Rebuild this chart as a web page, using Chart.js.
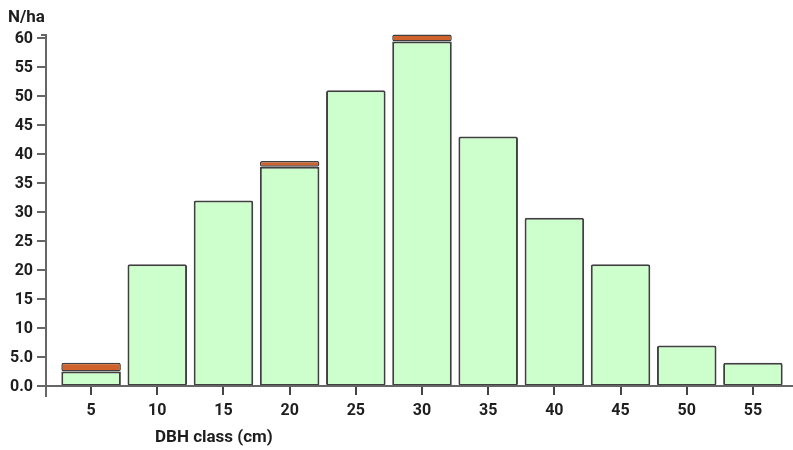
<!DOCTYPE html>
<html>
<head>
<meta charset="utf-8">
<script src="https://cdn.jsdelivr.net/npm/chart.js@4.4.0/dist/chart.umd.min.js"></script>
<style>
  html, body { margin: 0; padding: 0; background: #ffffff; }
  #wrap { width: 793px; height: 450px; position: relative; }
</style>
</head>
<body>
<div id="wrap"><canvas id="c" width="793" height="450"></canvas></div>
<script>
// Data
const categories = ["5", "10", "15", "20", "25", "30", "35", "40", "45", "50", "55"];
const baseValues = [2.5, 21, 32, 37.8, 51, 59.4, 43, 29, 21, 7, 4];
const topValues  = [1.5, null, null, 1.0, null, 1.2, null, null, null, null, null];
const yTickValues = [0, 5, 10, 15, 20, 25, 30, 35, 40, 45, 50, 55, 60];
const yTickLabels = ["0.0", "5.0", "10", "15", "20", "25", "30", "35", "40", "45", "50", "55", "60"];
const yTitle = "N/ha";
const xTitle = "DBH class (cm)";

const FONT = "Roboto, 'Liberation Sans', sans-serif";
const TEXT = "#1e1e1e";
const AXIS = "#666666";

const axesPlugin = {
  id: 'customAxes',
  afterDraw(chart) {
    const ctx = chart.ctx;
    const y = chart.scales.y;
    const axisX = 46;
    const y0 = y.getPixelForValue(0);
    const yTop = y.getPixelForValue(60);
    ctx.save();
    ctx.strokeStyle = AXIS;
    ctx.lineWidth = 2;
    // x axis line
    ctx.beginPath();
    ctx.moveTo(37, y0);
    ctx.lineTo(793, y0);
    ctx.stroke();
    // y axis line
    ctx.beginPath();
    ctx.moveTo(41, yTop - 3);
    ctx.lineTo(axisX, yTop - 3);
    ctx.lineTo(axisX, y0 + 11);
    ctx.stroke();
    // y ticks and labels
    ctx.font = "bold 16px " + FONT;
    ctx.fillStyle = TEXT;
    ctx.textAlign = "right";
    ctx.textBaseline = "middle";
    yTickValues.forEach((v, i) => {
      const py = y.getPixelForValue(v);
      ctx.beginPath();
      ctx.moveTo(37, py);
      ctx.lineTo(axisX, py);
      ctx.stroke();
      ctx.fillText(yTickLabels[i], 33, py + 1);
    });
    // titles
    ctx.font = "bold 17px " + FONT;
    ctx.textAlign = "left";
    ctx.fillText(yTitle, 8, 18);
    ctx.fillText(xTitle, 155, 438);
    ctx.restore();
  }
};

new Chart(document.getElementById('c'), {
  type: 'bar',
  data: {
    labels: categories,
    datasets: [
      {
        data: baseValues,
        backgroundColor: '#ccffcc',
        borderColor: '#404040',
        borderWidth: 2,
        borderRadius: 2,
        borderSkipped: false,
        categoryPercentage: 1,
        barPercentage: 0.9,
        clip: false
      },
      {
        data: topValues,
        backgroundColor: '#d0622c',
        borderColor: '#404040',
        borderWidth: 1.5,
        borderRadius: 2,
        borderSkipped: false,
        categoryPercentage: 1,
        barPercentage: 0.9,
        clip: false
      }
    ]
  },
  options: {
    responsive: false,
    animation: false,
    devicePixelRatio: 1,
    layout: { padding: { left: 58, right: 7, top: 38, bottom: 0 } },
    plugins: { legend: { display: false }, tooltip: { enabled: false }, title: { display: false } },
    scales: {
      x: {
        stacked: true,
        offset: true,
        grid: { display: true, drawOnChartArea: false, drawTicks: true, tickLength: 9, color: '#444444', lineWidth: 2, offset: false },
        border: { display: false },
        ticks: { color: TEXT, font: { family: FONT, size: 16, weight: 'bold' }, padding: 6, maxRotation: 0 },
        afterFit(scale) { scale.height = 64; }
      },
      y: {
        stacked: true,
        display: false,
        min: 0,
        max: 60
      }
    }
  },
  plugins: [axesPlugin]
});
</script>
</body>
</html>
